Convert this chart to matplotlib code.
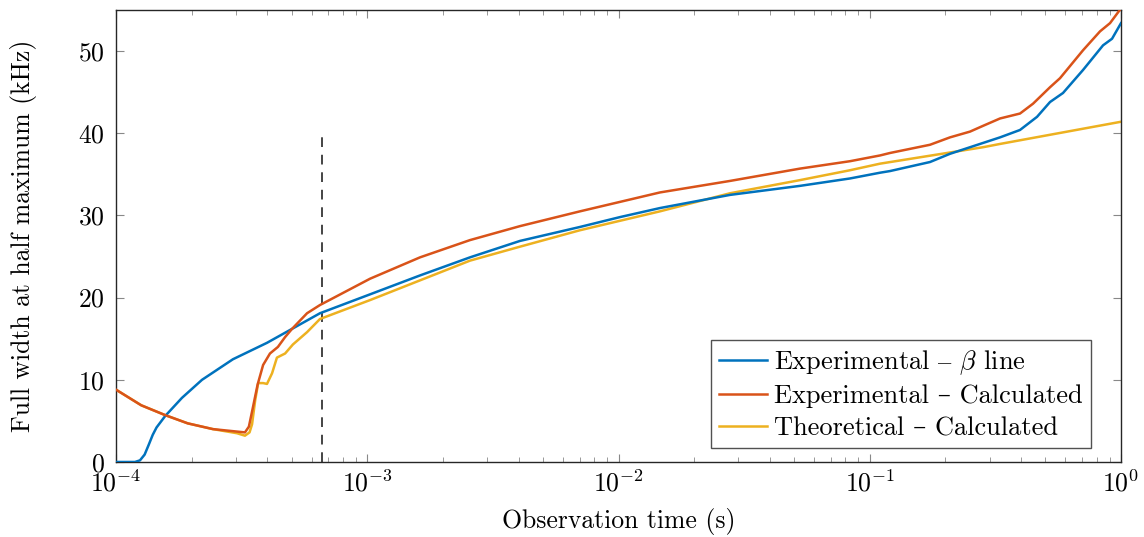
import matplotlib
matplotlib.use("Agg")
import matplotlib.pyplot as plt

# font settings: computer modern like the LaTeX original
plt.rcParams['font.family'] = ['cmr10', 'DejaVu Serif']
plt.rcParams['mathtext.fontset'] = 'cm'
plt.rcParams['axes.formatter.use_mathtext'] = True

# data (time in s, FWHM in kHz)
t_beta = [1.0e-4, 1.19e-4, 1.246e-4, 1.30e-4, 1.35e-4, 1.40e-4, 1.45e-4, 1.57e-4,
          1.83e-4, 2.20e-4, 2.92e-4, 3.99e-4, 5.02e-4, 6.485e-4, 1.026e-3, 1.622e-3,
          2.564e-3, 4.055e-3, 7.028e-3, 1.014e-2, 1.463e-2, 2.779e-2, 5.279e-2,
          8.346e-2, 0.1099, 0.1204, 0.1737, 0.2086, 0.2506, 0.33, 0.3963, 0.4633,
          0.5217, 0.5877, 0.7061, 0.8482, 0.9211, 1.0]
fwhm_beta = [0.0, 0.0, 0.2, 0.9, 2.1, 3.3, 4.2, 5.6,
             7.8, 10.0, 12.5, 14.5, 16.2, 18.1, 20.4, 22.7,
             24.9, 26.9, 28.6, 29.8, 30.9, 32.5, 33.6,
             34.5, 35.2, 35.4, 36.5, 37.5, 38.3, 39.5, 40.4, 42.0,
             43.8, 44.9, 47.7, 50.7, 51.5, 53.4]

t_exp = [1.0e-4, 1.26e-4, 1.57e-4, 1.93e-4, 2.43e-4, 3.03e-4, 3.26e-4, 3.38e-4,
         3.51e-4, 3.66e-4, 3.85e-4, 4.10e-4, 4.41e-4, 4.71e-4, 5.02e-4, 5.76e-4,
         6.485e-4, 1.026e-3, 1.622e-3, 2.564e-3, 4.055e-3, 7.028e-3, 1.463e-2,
         2.779e-2, 5.279e-2, 8.346e-2, 0.1099, 0.1204, 0.1737, 0.2086, 0.2506, 0.2823,
         0.33, 0.3963, 0.4466, 0.5217, 0.5718, 0.7061, 0.8251, 0.9043, 1.0]
fwhm_exp = [8.8, 6.9, 5.7, 4.7, 4.0, 3.7, 3.6, 4.3,
            6.7, 9.4, 11.8, 13.2, 14.0, 15.2, 16.2, 18.1,
            19.1, 22.3, 24.9, 27.0, 28.7, 30.5, 32.8,
            34.2, 35.7, 36.6, 37.3, 37.6, 38.6, 39.5, 40.2, 40.9,
            41.8, 42.4, 43.6, 45.6, 46.7, 50.1, 52.4, 53.4, 55.2]

t_theo = [1.0e-4, 1.26e-4, 1.57e-4, 1.93e-4, 2.43e-4, 3.03e-4, 3.26e-4, 3.40e-4,
          3.48e-4, 3.58e-4, 3.68e-4, 3.85e-4, 3.99e-4, 4.18e-4, 4.37e-4, 4.71e-4,
          5.06e-4, 5.76e-4, 6.485e-4, 1.026e-3, 1.622e-3, 2.564e-3, 4.055e-3,
          7.028e-3, 1.463e-2, 2.779e-2, 5.279e-2, 8.346e-2, 0.1099, 0.2823, 0.33, 1.0]
fwhm_theo = [8.8, 6.9, 5.7, 4.7, 4.0, 3.5, 3.2, 3.6,
             4.6, 7.5, 9.6, 9.6, 9.5, 10.8, 12.7, 13.2,
             14.3, 15.8, 17.4, 19.7, 22.1, 24.5, 26.2,
             28.2, 30.5, 32.7, 34.3, 35.5, 36.3, 38.3, 38.7, 41.4]

labels = ['Experimental $\u2013$ $\\beta$ line',
          'Experimental \u2013 Calculated',
          'Theoretical \u2013 Calculated']
colors = ['#0072BD', '#D95319', '#EDB120']

t_marker = 6.6e-4
marker_top = 40

fig = plt.figure(figsize=(11.44, 5.37), dpi=100)
ax = fig.add_axes([0.1014, 0.1397, 0.8785, 0.8417])

ax.plot(t_beta, fwhm_beta, color=colors[0], lw=1.8, label=labels[0], zorder=3)
ax.plot(t_exp, fwhm_exp, color=colors[1], lw=1.8, label=labels[1], zorder=3)
# theoretical curve sits underneath the experimental one
ax.plot(t_theo, fwhm_theo, color=colors[2], lw=1.8, label=labels[2], zorder=2.5)
ax.plot([t_marker, t_marker], [0, marker_top], color='#444444', lw=1.4,
        ls=(0, (5, 4)))

ax.set_xscale('log')
ax.set_xlim(1e-4, 1)
ax.set_ylim(0, 55)
ax.set_yticks([0, 10, 20, 30, 40, 50])

ax.set_xlabel('Observation time (s)', fontsize=18.5, labelpad=8)
ax.set_ylabel('Full width at half maximum (kHz)', fontsize=18.5, labelpad=30)

ax.tick_params(which='both', direction='in', top=True, right=True,
               color='#888888', labelsize=18.5)
ax.tick_params(which='major', length=6)
ax.tick_params(which='minor', length=3.5)
ax.tick_params(axis='x', which='major', pad=6)
ax.tick_params(axis='y', which='major', pad=8)
for s in ax.spines.values():
    s.set_color('#262626')
    s.set_linewidth(1.0)

leg = ax.legend(loc='lower right', bbox_to_anchor=(0.970, 0.031), fontsize=19,
                frameon=True, fancybox=False, edgecolor='#262626',
                handlelength=1.8, handletextpad=0.28, borderpad=0.3,
                labelspacing=0.3, borderaxespad=0)
leg.get_frame().set_linewidth(1.0)
leg.set_zorder(5)

fig.savefig('out.png', dpi=100)
